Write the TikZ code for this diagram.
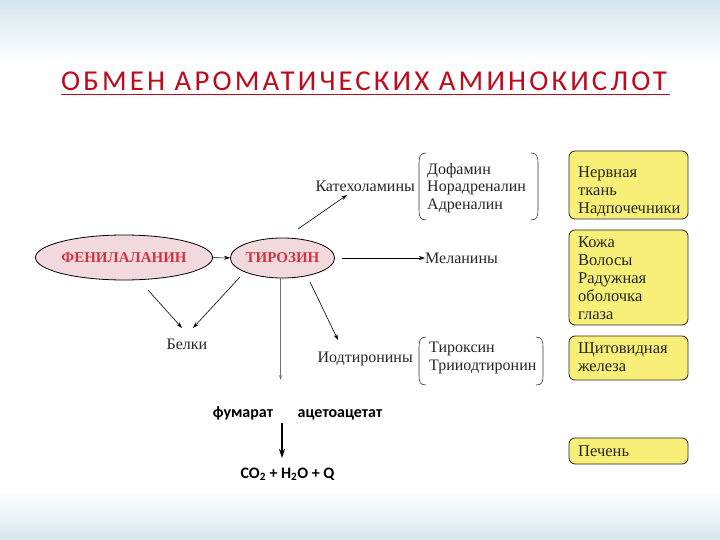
\documentclass[tikz,border=0pt]{standalone}
\usepackage{fontspec}
\setmainfont{Liberation Serif}
\newfontfamily\carl{Carlito}
\usetikzlibrary{arrows.meta,shapes.geometric}
\definecolor{bgblue}{HTML}{D6E7EF}
\definecolor{titlered}{HTML}{BE0A1C}
\definecolor{pinkfill}{HTML}{F1D9DE}
\definecolor{ellred}{HTML}{D2343F}
\definecolor{boxyellow}{HTML}{F7EF78}
\definecolor{txt}{HTML}{262626}
\tikzset{
  acid/.style={ellipse, draw=black, line width=0.8pt, fill=pinkfill, inner sep=0pt,
    font=\fontsize{15}{15}\selectfont\bfseries, text=ellred},
  lbl/.style={font=\fontsize{16}{17.5}\selectfont, text=txt, inner sep=0pt},
  organ/.style={draw=black!85, line width=0.8pt, fill=boxyellow, rounded corners=6pt},
  orgtxt/.style={font=\fontsize{16.5}{18}\selectfont, text=txt, inner sep=0pt, anchor=north west, align=left},
  conn/.style={line width=0.6pt, -{Stealth[length=6pt,width=4pt]}},
  brk/.style={line width=0.6pt, draw=black!80},
  bsans/.style={font=\carl\fontsize{16}{16}\selectfont\bfseries, inner sep=0pt}
}
\begin{document}
\begin{tikzpicture}[x=1pt,y=-1pt]
\useasboundingbox (0,0) rectangle (720,540);
\fill[white] (0,0) rectangle (720,540);
\shade[top color=bgblue, bottom color=white] (0,0) rectangle (720,62);
\shade[top color=white, bottom color=bgblue] (0,492) rectangle (720,540);
% title
\node[inner sep=0pt, anchor=base west, text=titlered, font=\carl\fontsize{28.8}{28.8}\selectfont\addfontfeature{LetterSpace=11}] (title) at (61,90.5) {ОБМЕН АРОМАТИЧЕСКИХ АМИНОКИСЛОТ};
\draw[titlered, line width=1.4pt] (61,94.5) -- (670,94.5);
% acids
\node[acid, minimum width=154pt, minimum height=45pt] (phe) at (124,257.5) {ФЕНИЛАЛАНИН};
\node[acid, minimum width=97pt, minimum height=40pt] (tyr) at (282.5,258) {ТИРОЗИН};
% labels
\node[lbl, anchor=east] (cat) at (415,186) {Катехоламины};
\node[lbl, anchor=west] (mel) at (425,258) {Меланины};
\node[lbl] (bel) at (187,344) {Белки};
\node[lbl, anchor=east] (iod) at (413,359) {Иодтиронины};
% bracket 1
\node[lbl, anchor=north west, align=left] (cats) at (427,163) {Дофамин\\Норадреналин\\Адреналин};
\draw[brk] (426,153) .. controls (420,153) and (419,157) .. (419,163) -- (419,210) .. controls (419,216) and (420,220) .. (426,220);
\draw[brk] (531,153) .. controls (537,153) and (538,157) .. (538,163) -- (538,210) .. controls (538,216) and (537,220) .. (531,220);
% bracket 2
\node[lbl, anchor=north west, align=left] (thy) at (429,342) {Тироксин\\Трииодтиронин};
\draw[brk] (426,337) .. controls (420,337) and (419,341) .. (419,347) -- (419,376) .. controls (419,382) and (420,385) .. (426,385);
\draw[brk] (536,337) .. controls (542,337) and (543,341) .. (543,347) -- (543,376) .. controls (543,382) and (542,385) .. (536,385);
% organ boxes
\draw[organ] (569,151) rectangle (688,219);
\node[orgtxt] (o1) at (578,166) {Нервная\\ткань\\Надпочечники};
\draw[organ] (569,230) rectangle (688,325);
\node[orgtxt] (o2) at (578,236) {Кожа\\Волосы\\Радужная\\оболочка\\глаза};
\draw[organ] (569,336) rectangle (688,380);
\node[orgtxt] (o3) at (578,342) {Щитовидная\\железа};
\draw[organ] (569,438) rectangle (688,464);
\node[orgtxt] (o4) at (578,445) {Печень};
% bottom
\node[bsans, anchor=base] (fum) at (243,417) {фумарат};
\node[bsans, anchor=base] (aceto) at (340,417) {ацетоацетат};
\node[bsans, anchor=base] (co2) at (287.5,478) {CO\textsubscript{2} + H\textsubscript{2}O + Q};
\coordinate (v1) at (282,423);
\coordinate (v2) at (282,458);
\coordinate (g1) at (280.5,380);
% connectors
\draw[conn] (phe) -- (tyr);
\draw[conn] (342,258) -- (mel.west);
\draw[conn] (298,229) -- (347,195);
\draw[conn] (148,290) -- (182,328);
\draw[conn] (240,277) -- (193,328);
\draw[conn] (310,282) -- (338,340);
\draw[black!55, line width=0.6pt, -{Stealth[length=5pt,width=3pt]}] (tyr.south -| g1) -- (g1);
\draw[line width=1.3pt, -{Stealth[length=9pt,width=6pt]}] (v1) -- (v2);
\end{tikzpicture}
\end{document}
